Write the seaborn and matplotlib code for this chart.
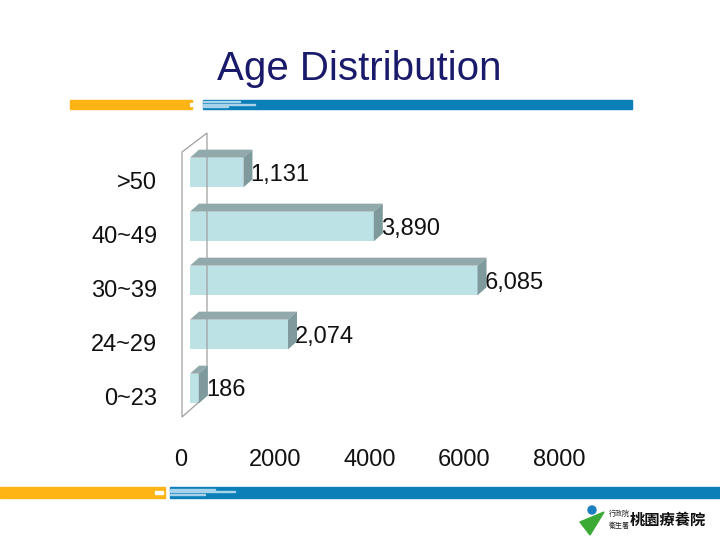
# Age distribution bar chart with a fake 3D look, slide style.
import matplotlib.pyplot as plt
import matplotlib.patches as mpatches
from matplotlib.transforms import ScaledTranslation
import seaborn as sns
import pandas as pd

# Data.
age_groups = [">50", "40~49", "30~39", "24~29", "0~23"]
counts = [1131, 3890, 6085, 2074, 186]
x_ticks = [0, 2000, 4000, 6000, 8000]

df = pd.DataFrame({"age": age_groups, "count": counts})

sns.set_theme(style="white")
plt.rcParams['font.family'] = ['Liberation Sans', 'Noto Sans CJK TC', 'DejaVu Sans']

fig = plt.figure(figsize=(7.2, 5.4), dpi=100)
W, H = 720, 540
ax = fig.add_axes([190 / W, 1 - 415.5 / H, 378 / W, 270 / H])
ax.patch.set_alpha(0)

front = "#bde2e5"
top_col = "#92a9ab"
side_col = "#7f9a9c"

sns.barplot(data=df, x="count", y="age", order=age_groups, color=front,
            width=0.55, saturation=1, orient="h", ax=ax)
for p in ax.patches:
    p.set_edgecolor("none")

ax.set_xlim(0, 8000)
ax.set_ylim(4.5, -0.5)
ax.set_xticks(x_ticks)
ax.set_xlabel("")
ax.set_ylabel("")
for s in ax.spines.values():
    s.set_visible(False)
ax.tick_params(length=0)
ax.tick_params(axis="x", labelsize=17, pad=24, colors="#111111")
ax.tick_params(axis="y", labelsize=17, pad=23.5, colors="#111111")

# nudge tick labels like the 3D floor/wall in the original
for lab in ax.get_xticklabels():
    lab.set_transform(lab.get_transform() + ScaledTranslation(-9 / 100, 0, fig.dpi_scale_trans))
for lab in ax.get_yticklabels():
    lab.set_transform(lab.get_transform() + ScaledTranslation(0, -8 / 100, fig.dpi_scale_trans))

# depth offsets in pixels
dx, dy = 9, 8
fig.canvas.draw()
for p, v in zip(ax.patches, counts):
    x0, y0 = p.get_x(), p.get_y()
    (xl, ya), (xr, yb) = ax.transData.transform([(x0, y0), (x0 + p.get_width(), y0 + p.get_height())])
    yt, ybot = max(ya, yb), min(ya, yb)
    top = mpatches.Polygon([(xl, yt), (xr, yt), (xr + dx, yt + dy), (xl + dx, yt + dy)],
                           closed=True, transform=None, facecolor=top_col, edgecolor="none")
    side = mpatches.Polygon([(xr, ybot), (xr, yt), (xr + dx, yt + dy), (xr + dx, ybot + dy)],
                            closed=True, transform=None, facecolor=side_col, edgecolor="none")
    fig.patches.extend([top, side])
    ax.annotate(f"{v:,}", (x0 + p.get_width(), y0 + p.get_height() / 2),
                xytext=(7, -2), textcoords="offset pixels", ha="left", va="center",
                fontsize=17, color="#111111")

# thin wall outline behind the bars
wall = [(182, H - 152), (207, H - 133), (207, H - 395), (182, H - 417)]
fig.patches.append(mpatches.Polygon(wall, closed=True, transform=None, fill=False,
                                    edgecolor="#a0a0a0", linewidth=0.9, zorder=0))

# title
fig.text(359 / W, 1 - 69 / H, "Age Distribution", ha="center", va="center",
         fontsize=29, color="#1a1a6b")

# slide decoration bars
orange = "#fdb414"
blue = "#0a7fb8"
fig.patches.append(mpatches.Rectangle((70, H - 109), 122, 9, transform=None, color=orange))
fig.patches.append(mpatches.Rectangle((190, H - 106), 7, 3, transform=None, color="white"))
fig.patches.append(mpatches.Rectangle((203, H - 109), 429, 9, transform=None, color=blue))
fig.patches.append(mpatches.Rectangle((0, H - 498), 165, 11, transform=None, color=orange))
fig.patches.append(mpatches.Rectangle((155, H - 494), 8, 3, transform=None, color="white"))
fig.patches.append(mpatches.Rectangle((170, H - 498), 550, 11, transform=None, color=blue))
for y0, x1 in [(102, 240), (104.5, 255), (107, 228)]:
    fig.patches.append(mpatches.Rectangle((203, H - y0), x1 - 203, 1, transform=None,
                                          color="#a9d3ea"))
for y0, x1 in [(489.5, 215), (492, 235), (495, 205)]:
    fig.patches.append(mpatches.Rectangle((170, H - y0), x1 - 170, 1, transform=None,
                                          color="#a9d3ea"))

# logo in the lower right corner
fig.patches.append(mpatches.Circle((592, H - 510), 4, transform=None, color="#1a7fc1"))
fig.patches.append(mpatches.Polygon([(580, H - 522), (604, H - 512), (590, H - 535)],
                                    closed=True, transform=None, color="#3aaa35"))
fig.text(619 / W, 1 - 514 / H, "行政院", ha="center", va="center", fontsize=5, color="#222222")
fig.text(619 / W, 1 - 526 / H, "衛生署", ha="center", va="center", fontsize=5, color="#222222")
fig.text(668 / W, 1 - 520 / H, "桃園療養院", ha="center", va="center", fontsize=11,
         color="#111111", weight="bold")

fig.savefig("out.png", dpi=100)
